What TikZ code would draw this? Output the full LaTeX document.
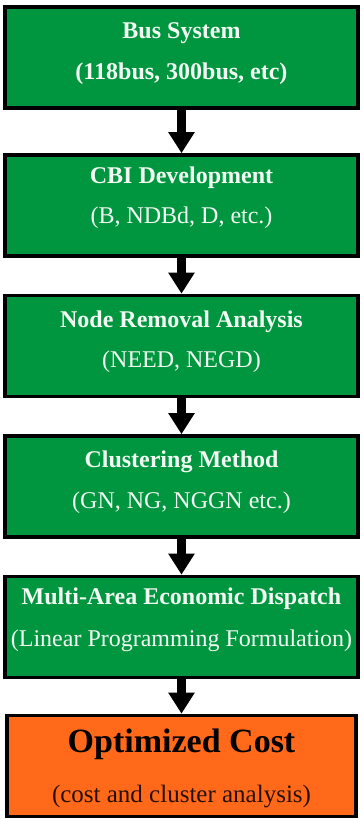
\documentclass[tikz,border=0pt]{standalone}
\usepackage{fontspec}
\setmainfont{Liberation Serif}
\usetikzlibrary{arrows.meta}
\definecolor{boxgreen}{RGB}{0,150,64}
\definecolor{boxorange}{RGB}{255,105,25}
\definecolor{txtwhite}{RGB}{242,250,242}
\tikzset{
  stagebox/.style={draw=black, line width=3.6pt, fill=boxgreen, minimum width=353pt, minimum height=101pt, inner sep=0pt},
  finalbox/.style={stagebox, fill=boxorange, minimum width=349pt},
  ttl/.style={text=txtwhite, font=\fontsize{24}{28}\selectfont\bfseries, inner sep=0pt},
  sub/.style={text=txtwhite, font=\fontsize{24}{28}\selectfont, inner sep=0pt},
  subbold/.style={text=txtwhite, font=\fontsize{24}{28}\selectfont\bfseries, inner sep=0pt},
  bigttl/.style={text=black, font=\fontsize{34}{38}\selectfont\bfseries, inner sep=0pt},
  bigsub/.style={text=black!85!boxorange, font=\fontsize{25}{29}\selectfont, inner sep=0pt},
  flow/.style={line width=9pt, -{Triangle[width=25pt,length=21pt]}}
}
\begin{document}
\begin{tikzpicture}[x=1pt,y=-1pt]
\useasboundingbox (0,0) rectangle (362,819);
\node[stagebox] (b1) at (181.5,57.5) {};
\node[stagebox] (b2) at (181.5,205.5) {};
\node[stagebox] (b3) at (181.5,346) {};
\node[stagebox] (b4) at (181.5,486.5) {};
\node[stagebox] (b5) at (181.5,627) {};
\node[finalbox] (b6) at (181.5,766) {};
\node[ttl] (t1) at (181.5,33) {Bus System};
\node[subbold] (s1) at (181.5,74) {(118bus, 300bus, etc)};
\node[ttl] (t2) at (181.5,178) {CBI Development};
\node[sub] (s2) at (181.5,218) {(B, NDBd, D, etc.)};
\node[ttl] (t3) at (181.5,321.5) {Node Removal Analysis};
\node[sub] (s3) at (181.5,362) {(NEED, NEGD)};
\node[ttl] (t4) at (181.5,461.5) {Clustering Method};
\node[sub] (s4) at (181.5,503) {(GN, NG, NGGN etc.)};
\node[ttl] (t5) at (181.5,599) {Multi-Area Economic Dispatch};
\node[sub] (s5) at (181.5,641) {(Linear Programming Formulation)};
\node[bigttl] (t6) at (181.5,744) {Optimized Cost};
\node[bigsub] (s6) at (181.5,797) {(cost and cluster analysis)};
\draw[flow] (b1.south) -- (b2.north);
\draw[flow] (b2.south) -- (b3.north);
\draw[flow] (b3.south) -- (b4.north);
\draw[flow] (b4.south) -- (b5.north);
\draw[flow] (b5.south) -- (b6.north);
\end{tikzpicture}
\end{document}
